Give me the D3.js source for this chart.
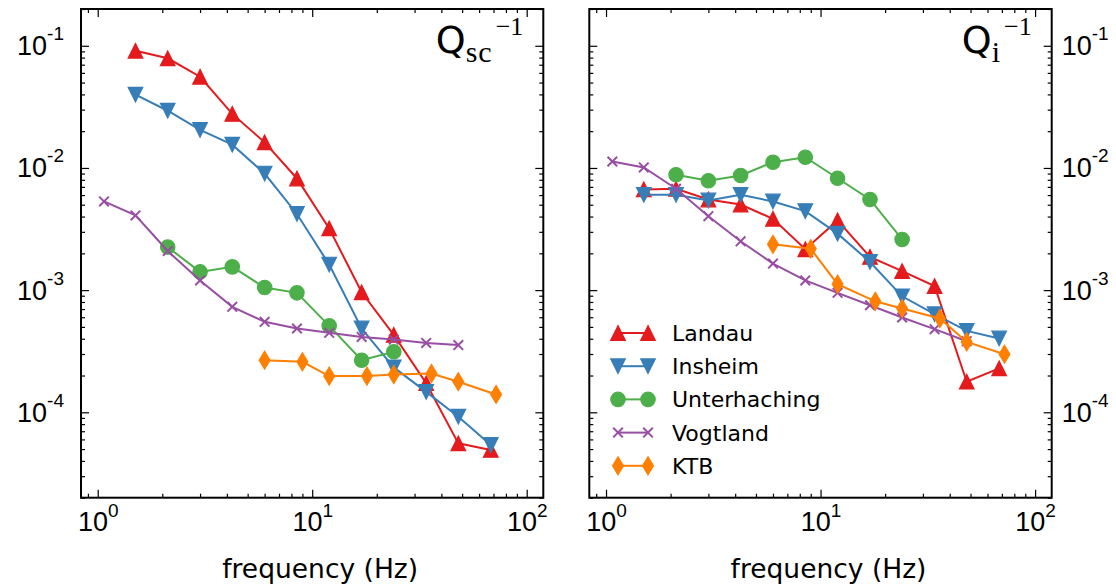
<!DOCTYPE html>
<html>
<head>
<meta charset="utf-8">
<script src="https://cdn.jsdelivr.net/npm/d3@7"></script>
<style>
  html, body { margin: 0; padding: 0; background: #fff; }
  svg { display: block; font-family: "DejaVu Sans", sans-serif; }
</style>
</head>
<body>
<svg id="chart" width="1116" height="586"></svg>
<script>
// Frequency bands (Hz) per site
const freqs = [1.5, 2.12, 3, 4.24, 6, 8.49, 12, 17, 24, 34, 48, 68];
const freqsVogtland = [1.07, 1.5, 2.12, 3, 4.24, 6, 8.49, 12, 17, 24, 34, 48];
const freqsUnterhaching = [2.12, 3, 4.24, 6, 8.49, 12, 17, 24];
const freqsKTB = [6, 9, 12, 18, 24, 36, 48, 72];

// Scattering attenuation Qsc^-1
const landauSc = [0.091, 0.079, 0.0558, 0.0277, 0.0162, 0.0082, 0.0032, 0.00096, 0.00043, 0.000173, 0.0000557, 0.0000492];
const insheimSc = [0.0398, 0.0294, 0.0205, 0.0155, 0.009, 0.0042, 0.00162, 0.000485, 0.000233, 0.000147, 0.000092, 0.000054];
const unterhachingSc = [0.00225, 0.00141, 0.00155, 0.00105, 0.00095, 0.00051, 0.000267, 0.000313];
const vogtlandSc = [0.00532, 0.00409, 0.00209, 0.0012, 0.00073, 0.00055, 0.000485, 0.000447, 0.000414, 0.000394, 0.00037, 0.000355];
const ktbSc = [0.000267, 0.000259, 0.000198, 0.000198, 0.000204, 0.000208, 0.000178, 0.00014];

// Intrinsic attenuation Qi^-1
const landauI = [0.00667, 0.00675, 0.00552, 0.00502, 0.00384, 0.00216, 0.00372, 0.00187, 0.00143, 0.00108, 0.000178, 0.000229];
const insheimI = [0.00603, 0.00603, 0.00542, 0.00603, 0.00532, 0.00443, 0.0029, 0.0017, 0.00089, 0.000635, 0.000464, 0.000402];
const unterhachingI = [0.00879, 0.00785, 0.00868, 0.01115, 0.01225, 0.00824, 0.00552, 0.0026];
const vogtlandI = [0.0113, 0.0101, 0.00676, 0.00403, 0.00251, 0.00165, 0.0012, 0.00095, 0.000752, 0.000597, 0.000479, 0.000382];
const ktbI = [0.00237, 0.00218, 0.00112, 0.00081, 0.000707, 0.000586, 0.000377, 0.000299];

const siteNames = ["Landau", "Insheim", "Unterhaching", "Vogtland", "KTB"];
const siteColors = ["#e41a1c", "#377eb8", "#4daf4a", "#984ea3", "#ff7f00"];
const siteMarkers = ["triangleUp", "triangleDown", "circle", "x", "thinDiamond"];
const siteFreqs = [freqs, freqs, freqsUnterhaching, freqsVogtland, freqsKTB];

const xTickLabels = ["0", "1", "2"];
const yTickLabels = ["-1", "-2", "-3", "-4"];
const xLabel = "frequency (Hz)";

const svg = d3.select("#chart");

const plotTop = 9, plotBottom = 497.7;
const panels = [
  { x0: 81, x1: 543.3, values: [landauSc, insheimSc, unterhachingSc, vogtlandSc, ktbSc], sub: "sc", labelSide: "left", legend: false },
  { x0: 589.3, x1: 1051.7, values: [landauI, insheimI, unterhachingI, vogtlandI, ktbI], sub: "i", labelSide: "right", legend: true }
];

function markerPath(type) {
  const h = 7.3;
  switch (type) {
    case "triangleUp": return `M0,${-h}L${-h},${h}L${h},${h}Z`;
    case "triangleDown": return `M0,${h}L${-h},${-h}L${h},${-h}Z`;
    case "thinDiamond": { const d = 9; return `M0,${-d}L${d * 0.6},0L0,${d}L${-d * 0.6},0Z`; }
    case "x": { const s = 4.8; return `M${-s},${-s}L${s},${s}M${-s},${s}L${s},${-s}`; }
    default: return null;
  }
}

function drawMarker(g, type, color, x, y) {
  if (type === "circle") {
    g.append("circle").attr("cx", x).attr("cy", y).attr("r", 7.2)
      .attr("fill", color).attr("stroke", color).attr("stroke-width", 1.2);
  } else if (type === "x") {
    g.append("path").attr("transform", `translate(${x},${y})`).attr("d", markerPath(type))
      .attr("fill", "none").attr("stroke", color).attr("stroke-width", 2);
  } else {
    g.append("path").attr("transform", `translate(${x},${y})`).attr("d", markerPath(type))
      .attr("fill", color).attr("stroke", color).attr("stroke-width", 1.2).attr("stroke-linejoin", "miter");
  }
}

function minorTicks(domain) {
  const out = [];
  const lo = Math.floor(Math.log10(domain[0])), hi = Math.ceil(Math.log10(domain[1]));
  for (let e = lo; e <= hi; e++) {
    for (let m = 2; m <= 9; m++) {
      const v = m * Math.pow(10, e);
      if (v >= domain[0] && v <= domain[1]) out.push(v);
    }
  }
  return out;
}

function powerLabel(sel, exps, anchor, supShift) {
  sel.selectAll(".tick text").each(function(d, i) {
    const t = d3.select(this);
    t.text(null).attr("text-anchor", anchor).attr("fill", "#000");
    t.append("tspan").text("10");
    t.append("tspan").attr("dy", supShift).attr("font-size", 19).text(exps[i]);
  });
}

const xDomain = [0.8357, 119.5];
const yDomain = [2e-5, 0.2];

panels.forEach((p) => {
  const x = d3.scaleLog().domain(xDomain).range([p.x0, p.x1]);
  const y = d3.scaleLog().domain(yDomain).range([plotBottom, plotTop]);
  const g = svg.append("g");

  const xMajor = [1, 10, 100];
  const yMajor = [0.1, 0.01, 0.001, 0.0001];
  const xMinor = minorTicks(xDomain);
  const yMinor = minorTicks(yDomain);

  const styleTicks = (sel) => {
    sel.select(".domain").remove();
    sel.selectAll(".tick line").attr("stroke", "#000").attr("stroke-width", 1.2);
  };

  // Minor ticks on all four sides, pointing inward
  g.append("g").attr("transform", `translate(0,${plotBottom})`)
    .call(d3.axisBottom(x).tickValues(xMinor).tickSize(-4).tickFormat("")).call(styleTicks);
  g.append("g").attr("transform", `translate(0,${plotTop})`)
    .call(d3.axisTop(x).tickValues(xMinor).tickSize(-4).tickFormat("")).call(styleTicks);
  g.append("g").attr("transform", `translate(${p.x0},0)`)
    .call(d3.axisLeft(y).tickValues(yMinor).tickSize(-4).tickFormat("")).call(styleTicks);
  g.append("g").attr("transform", `translate(${p.x1},0)`)
    .call(d3.axisRight(y).tickValues(yMinor).tickSize(-4).tickFormat("")).call(styleTicks);

  // Major ticks with power-of-ten labels
  const xb = g.append("g").attr("transform", `translate(0,${plotBottom})`)
    .call(d3.axisBottom(x).tickValues(xMajor).tickSize(-8).tickFormat(() => "")).call(styleTicks);
  xb.selectAll(".tick text").attr("font-size", 27).attr("y", 33).attr("dy", null);
  powerLabel(xb, xTickLabels, "middle", -14);

  g.append("g").attr("transform", `translate(0,${plotTop})`)
    .call(d3.axisTop(x).tickValues(xMajor).tickSize(-8).tickFormat("")).call(styleTicks);

  const yl = g.append("g").attr("transform", `translate(${p.x0},0)`)
    .call(d3.axisLeft(y).tickValues(yMajor).tickSize(-8).tickFormat(() => "")).call(styleTicks);
  const yr = g.append("g").attr("transform", `translate(${p.x1},0)`)
    .call(d3.axisRight(y).tickValues(yMajor).tickSize(-8).tickFormat(() => "")).call(styleTicks);

  if (p.labelSide === "left") {
    yl.selectAll(".tick text").attr("font-size", 27).attr("x", -17).attr("dy", 9);
    powerLabel(yl, yTickLabels, "end", -15);
    yr.selectAll(".tick text").remove();
  } else {
    yr.selectAll(".tick text").attr("font-size", 27).attr("x", 10).attr("dy", 9);
    powerLabel(yr, yTickLabels, "start", -15);
    yl.selectAll(".tick text").remove();
  }

  // Series lines and markers
  p.values.forEach((vals, si) => {
    const fs = siteFreqs[si];
    const pts = vals.map((v, i) => [x(fs[i]), y(v)]);
    g.append("path").attr("d", d3.line()(pts))
      .attr("fill", "none").attr("stroke", siteColors[si]).attr("stroke-width", 2);
    const mg = g.append("g");
    pts.forEach(([px, py]) => drawMarker(mg, siteMarkers[si], siteColors[si], px, py));
  });

  // Frame
  g.append("rect").attr("x", p.x0).attr("y", plotTop)
    .attr("width", p.x1 - p.x0).attr("height", plotBottom - plotTop)
    .attr("fill", "none").attr("stroke", "#000").attr("stroke-width", 2);

  // Panel title: Q_sub^-1
  const title = g.append("text").attr("x", p.x1 - 20).attr("y", 53).attr("text-anchor", "end");
  title.append("tspan").attr("font-family", "DejaVu Sans").attr("font-size", 38).text("Q");
  title.append("tspan").attr("font-family", "Liberation Serif").attr("font-size", 30)
    .attr("dy", 9).attr("letter-spacing", 1).text(p.sub);
  title.append("tspan").attr("font-family", "Liberation Serif").attr("font-size", 26)
    .attr("dy", -27).attr("dx", 3).text("\u22121");

  // Axis label
  g.append("text").attr("x", (p.x0 + p.x1) / 2 + 8).attr("y", 578)
    .attr("text-anchor", "middle").attr("font-size", 26.5).text(xLabel);

  // Legend
  if (p.legend) {
    const lg = g.append("g");
    siteNames.forEach((name, si) => {
      const cy = 333 + si * 33.2;
      lg.append("line").attr("x1", 618).attr("x2", 648).attr("y1", cy).attr("y2", cy)
        .attr("stroke", siteColors[si]).attr("stroke-width", 2);
      drawMarker(lg, siteMarkers[si], siteColors[si], 618, cy);
      drawMarker(lg, siteMarkers[si], siteColors[si], 648, cy);
      lg.append("text").attr("x", 672).attr("y", cy + 8).attr("font-size", 22).text(name);
    });
  }
});
</script>
</body>
</html>
